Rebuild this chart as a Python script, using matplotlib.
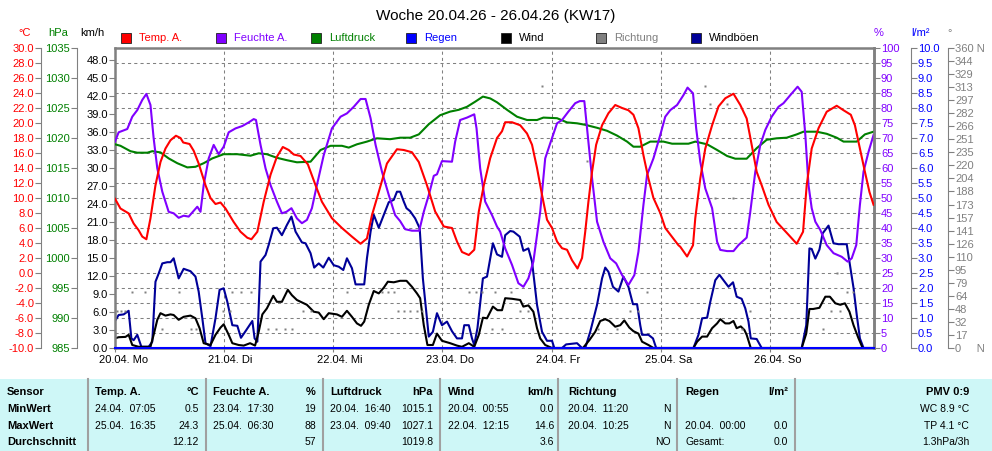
import numpy as np
import matplotlib
matplotlib.use("Agg")
import matplotlib.pyplot as plt
from matplotlib.patches import Rectangle
from matplotlib.ticker import FormatStrFormatter
from matplotlib.transforms import blended_transform_factory, offset_copy

plt.rcParams["font.family"] = ["Liberation Sans", "DejaVu Sans"]
plt.rcParams["axes.unicode_minus"] = False

# Messwerte, Zeit in Stunden ab 20.04. 00:00
temp_h = [0, 1.2, 3.0, 4.1, 5.2, 6.0, 6.9, 7.8, 8.9, 10.0, 11.1, 12.2, 13.4, 14.4, 15.0, 16.4, 17.3, 18.4,
          19.9, 21.0, 22.1, 23.2, 24.3, 26.1, 27.6, 29.1, 30.0, 31.3, 32.7, 34.2, 35.6, 36.9, 38.2, 39.3,
          40.8, 42.4, 44.1, 45.5, 47.7, 49.9, 52.1, 54.0, 55.4, 56.5, 58.0, 59.8, 62.0, 63.5, 65.3, 66.8,
          68.6, 70.4, 72.3, 74.1, 75.2, 76.3, 77.8, 79.0, 80.0, 81.1, 82.5, 84.0, 85.1, 85.8, 87.3, 89.1,
          90.6, 91.7, 92.8, 93.9, 95.0, 96.1, 97.2, 98.3, 99.4, 100.5, 101.7, 102.7, 103.4, 104.1, 104.9,
          105.8, 107.1, 108.5, 110.0, 111.5, 112.9, 114.0, 115.1, 116.2, 117.3, 118.4, 119.9, 121.0, 122.5,
          123.9, 124.3, 125.8, 127.1, 127.6, 128.7, 129.8, 131.3, 132.7, 134.2, 136.0, 137.5, 138.9, 140.0,
          141.1, 142.2, 143.7, 145.5, 148.1, 149.9, 151.3, 152.1, 153.2, 154.7, 156.5, 158.7, 160.2, 161.8,
          162.7, 163.8, 164.9, 165.9, 166.8]
temp_v = [9.9, 8.6, 7.95, 6.6, 5.7, 4.85, 4.5, 7.3, 11.7, 14.8, 16.6, 17.7, 18.3, 18.0, 17.4, 17.2, 16.3, 14.6,
          11.7, 10.0, 9.2, 9.4, 8.6, 6.8, 5.5, 4.7, 4.5, 5.5, 9.5, 13.1, 15.5, 16.8, 16.4, 15.8,
          15.6, 14.5, 11.7, 9.5, 7.3, 6.0, 4.85, 3.9, 4.6, 7.7, 10.8, 14.6, 16.5, 16.4, 16.1, 14.8,
          11.7, 8.2, 6.2, 6.0, 4.2, 2.8, 2.4, 3.1, 8.2, 11.7, 15.3, 18.0, 18.9, 20.1, 20.1, 19.7,
          18.6, 17.1, 14.0, 10.4, 7.1, 6.0, 4.2, 3.3, 3.1, 1.7, 0.6, 2.0, 5.5, 9.5, 13.5,
          17.1, 19.7, 21.3, 22.4, 22.0, 21.7, 21.1, 19.3, 15.7, 12.6, 10.0, 8.0, 6.0, 4.8,
          3.7, 3.5, 2.2, 3.7, 7.3, 12.6, 16.6, 19.7, 22.2, 23.3, 23.9, 22.4, 20.6, 17.1,
          13.5, 11.7, 9.1, 6.8, 5.1, 3.9, 5.5, 11.7, 16.6, 19.3, 21.5, 22.3, 21.7, 21.1,
          19.7, 16.6, 13.5, 10.8, 9.1]

hum_h = [0, 0.8, 2.7, 3.8, 4.9, 6.0, 6.9, 7.8, 8.5, 9.3, 10.4, 11.8, 12.9, 14.0, 15.1, 16.2, 17.3, 18.1, 18.8,
         19.5, 20.6, 21.7, 22.8, 23.9, 25.0, 26.5, 28.0, 29.4, 30.5, 31.0, 32.0, 33.1, 34.2, 35.6, 36.7,
         37.7, 38.8, 40.0, 41.1, 42.2, 43.3, 44.4, 45.9, 47.7, 49.6, 51.0, 52.5, 54.0, 55.1, 56.2, 57.3,
         58.7, 60.2, 61.6, 62.7, 63.8, 65.3, 66.9, 67.9, 69.0, 70.1, 70.8, 71.9, 74.1, 74.8, 75.9, 77.4,
         79.0, 79.5, 80.3, 81.4, 82.9, 84.0, 84.7, 85.8, 87.3, 88.7, 89.8, 90.9, 92.0, 93.5, 94.6, 95.7,
         97.2, 98.3, 99.7, 101.2, 102.2, 103.2, 103.8, 104.9, 106.0, 107.4, 108.9, 110.2, 111.5, 112.9,
         114.2, 115.1, 116.2, 117.0, 118.4, 119.9, 121.0, 122.1, 123.6, 125.0, 125.9, 127.1, 127.8, 128.7,
         129.8, 131.3, 132.4, 133.1, 134.6, 136.0, 137.1, 138.9, 139.7, 140.8, 141.9, 143.0, 144.4, 145.9,
         147.0, 148.5, 150.1, 151.0, 151.8, 152.5, 153.2, 154.0, 155.1, 156.5, 158.0, 159.8, 161.1, 162.0,
         163.0, 163.8, 164.6, 165.7, 166.8]
hum_v = [68.8, 71.9, 73.0, 77.1, 79.3, 82.7, 84.7, 81.0, 69.9, 59.9, 52.1, 45.4, 44.9, 43.4, 44.1, 43.8, 45.7, 47.1, 45.4,
         54.3, 63.2, 67.7, 64.6, 67.1, 71.9, 73.2, 74.0, 75.2, 76.3, 76.0, 67.7, 59.9, 54.3, 48.8, 44.9,
         45.4, 46.6, 43.2, 41.6, 42.7, 46.6, 54.3, 64.3, 73.2, 77.1, 78.2, 80.4, 83.0, 83.0, 76.6, 67.7,
         58.8, 51.0, 44.3, 42.3, 39.6, 39.1, 39.1, 45.4, 51.0, 57.4, 57.9, 62.3, 62.1, 68.8, 76.0, 76.8,
         77.9, 73.2, 59.9, 48.8, 44.3, 40.5, 38.8, 33.2, 27.7, 21.6, 20.4, 23.2, 28.8, 45.4, 63.2, 68.2,
         74.9, 76.0, 78.8, 81.6, 82.3, 82.3, 73.2, 56.6, 42.1, 35.4, 29.9, 28.2, 24.3, 21.0,
         24.3, 32.1, 47.7, 57.7, 63.2, 71.0, 77.1, 79.3, 81.0, 84.3, 86.8, 84.9, 73.2, 62.1,
         53.2, 46.6, 35.4, 32.7, 32.3, 32.3, 34.3, 36.8, 45.4, 58.8, 67.7, 72.7, 77.1, 80.4,
         81.6, 84.3, 87.1, 85.4, 71.0, 54.3, 46.6, 42.1, 39.3, 34.3, 31.6, 30.4, 28.8, 29.9,
         34.3, 47.7, 58.8, 65.4, 71.0]

pres_h = [0, 1.2, 3.4, 4.9, 7.1, 8.2, 10.0, 11.8, 13.7, 15.9, 17.7, 19.5, 21.4, 23.9, 26.9, 29.8, 31.6, 33.4,
          35.6, 37.8, 40.0, 43.0, 45.2, 47.4, 49.9, 51.4, 53.2, 55.4, 57.6, 60.5, 62.7, 64.9, 66.8, 69.0,
          71.5, 73.7, 75.6, 77.4, 79.2, 80.9, 82.5, 84.0, 86.2, 88.4, 90.6, 92.8, 94.2, 97.2, 99.4, 101.6,
          103.4, 106.0, 108.2, 110.4, 112.6, 114.0, 115.5, 117.7, 120.6, 122.5, 126.1, 127.6, 130.2, 132.4,
          134.6, 136.4, 138.9, 141.1, 143.3, 145.5, 147.7, 149.9, 151.4, 154.3, 156.5, 158.7, 160.2, 163.1,
          164.9, 166.8]
pres_v = [1018.95, 1018.7, 1017.8, 1017.55, 1017.55, 1017.8, 1017.6, 1016.6, 1015.8, 1015.1, 1015.2, 1015.8,
          1016.6, 1017.3, 1017.3, 1017.05, 1017.45, 1017.3, 1016.7, 1016.3, 1015.95, 1016.05, 1018.0, 1018.7,
          1018.7, 1018.4, 1018.95, 1019.4, 1019.95, 1019.8, 1020.05, 1020.05, 1020.6, 1022.3, 1023.8, 1024.4,
          1024.7, 1025.2, 1026.05, 1026.9, 1026.6, 1025.95, 1024.7, 1023.55, 1023.0, 1023.0, 1023.4, 1023.3,
          1022.6, 1022.45, 1022.2, 1021.7, 1021.2, 1020.4, 1019.4, 1018.55, 1018.55, 1019.4, 1019.4, 1019.05,
          1019.05, 1019.4, 1018.95, 1018.0, 1017.0, 1016.55, 1016.55, 1018.3, 1019.7, 1019.95, 1020.05,
          1020.6, 1021.05, 1021.05, 1020.7, 1020.05, 1019.4, 1019.4, 1020.6, 1021.05]

gust_h = [0, 0.8, 1.9, 3.0, 3.6, 4.1, 4.9, 5.8, 7.4, 8.2, 8.9, 9.6, 10.4, 11.5, 12.2, 12.9, 14.0, 15.1, 16.6,
          17.7, 18.4, 19.2, 19.9, 21.0, 22.1, 23.0, 23.9, 24.7, 25.8, 26.9, 27.7, 28.7, 30.2, 30.7, 31.3,
          32.0, 33.1, 33.8, 34.8, 35.6, 36.7, 37.8, 38.8, 39.7, 41.1, 41.9, 43.0, 43.8, 44.8, 45.8, 47.0,
          48.1, 49.2, 50.2, 51.0, 52.1, 52.9, 54.8, 55.4, 56.2, 56.9, 58.0, 59.1, 60.2, 61.3, 62.0, 62.7,
          63.5, 64.1, 64.9, 66.0, 67.0, 67.7, 69.0, 69.9, 70.8, 71.9, 73.0, 74.1, 75.2, 76.3, 76.8, 77.8,
          78.5, 79.0, 79.7, 80.9, 81.8, 83.1, 84.0, 85.1, 85.8, 86.9, 87.6, 89.0, 89.8, 90.9, 91.7, 92.8,
          93.9, 95.0, 96.1, 96.6, 98.3, 99.2, 101.6, 102.7, 103.4, 104.5, 106.0, 107.1, 107.8, 108.5, 109.5,
          110.7, 111.8, 112.9, 113.9, 114.8, 115.5, 115.9, 117.3, 118.3, 119.0, 127.2, 128.3, 129.1, 130.2,
          130.9, 132.0, 132.9, 133.8, 134.9, 135.9, 136.7, 137.8, 138.6, 139.3, 139.8, 141.1, 142.2, 151.0,
          152.0, 152.7, 153.2, 154.0, 154.9, 155.6, 156.9, 158.0, 159.1, 160.9, 161.6, 162.4, 163.1, 163.8,
          164.6, 166.9]
gust_v = [4.5, 5.5, 5.6, 6.2, 1.6, 1.3, 2.2, 0.2, 0.2, 1.05, 11.05, 12.4, 14.1, 14.3, 14.3, 14.95, 11.6, 13.2, 12.8,
          11.9, 9.4, 4.95, 0.8, 0.3, 4.95, 9.7, 9.95, 7.7, 3.8, 3.7, 1.7, 2.8, 4.5, 1.6, 1.05,
          14.4, 15.5, 17.2, 19.95, 20.05, 18.8, 20.5, 21.9, 19.4, 17.6, 17.45, 15.8, 13.4, 14.1, 13.4, 15.05,
          13.8, 13.55, 13.0, 14.95, 13.3, 10.6, 10.6, 14.95, 19.4, 22.2, 20.05, 22.2, 24.3, 24.7, 26.05, 26.05,
          24.4, 23.3, 22.8, 21.6, 19.95, 11.6, 1.9, 2.7, 5.8, 3.8, 4.4, 2.8, 1.6, 1.6, 3.8, 3.8,
          1.6, 0.5, 3.3, 11.6, 11.9, 17.45, 15.6, 15.2, 18.8, 19.5, 19.4, 18.55, 16.2, 16.6, 14.4, 7.2,
          2.7, 1.2, 1.2, 0.0, 0.0, 0.6, 0.8, 0.0, 0.0, 2.7, 7.2, 11.6, 13.4, 12.7, 10.2,
          9.4, 11.9, 10.2, 7.3, 7.3, 3.8, 2.2, 2.2, 1.6, 0.0, 0.0, 2.2, 4.95, 5.05,
          7.7, 11.3, 12.2, 11.3, 10.2, 10.95, 8.55, 8.2, 6.6, 4.4, 1.6, 1.5, 0.0, 0.0,
          3.8, 16.6, 16.5, 14.9, 16.4, 19.1, 20.4, 17.45, 17.3, 17.3, 13.9, 10.0, 5.55, 1.6,
          0.0, 0.0]

wind_h = [0, 0.8, 2.3, 3.0, 3.8, 5.2, 7.8, 8.5, 9.3, 10.0, 11.1, 12.2, 12.9, 14.0, 15.1, 16.6, 17.7, 18.6, 19.5,
          21.0, 22.1, 23.2, 23.9, 25.0, 25.8, 27.2, 28.3, 29.7, 30.8, 31.6, 32.4, 33.4, 34.8, 35.6, 36.7,
          38.0, 38.9, 40.0, 41.5, 42.2, 43.7, 44.8, 45.9, 47.0, 48.8, 49.9, 51.0, 52.1, 53.2, 54.1, 54.8,
          55.8, 56.9, 58.0, 59.1, 60.0, 61.3, 62.7, 64.1, 65.3, 66.4, 67.1, 67.9, 68.7, 69.9, 70.8, 71.9,
          73.7, 75.2, 76.3, 77.8, 79.0, 80.0, 80.9, 81.8, 83.1, 84.1, 85.1, 85.8, 87.3, 89.1, 89.8, 90.9,
          92.0, 92.8, 93.5, 94.6, 96.1, 102.9, 104.3, 105.6, 106.7, 107.8, 108.7, 110.0, 111.1, 112.0,
          113.1, 114.0, 115.1, 115.9, 117.3, 118.4, 127.2, 128.0, 129.1, 130.2, 131.3, 132.4, 133.1, 134.2,
          135.1, 136.0, 136.7, 137.6, 138.4, 138.9, 139.8, 151.0, 152.0, 152.7, 153.5, 154.9, 156.2, 157.2,
          158.4, 159.5, 160.5, 161.5, 162.4, 163.5, 164.4, 166.9]
wind_v = [1.6, 1.8, 1.85, 2.2, 0.5, 0.2, 0.2, 2.2, 4.7, 5.8, 5.4, 5.6, 5.5, 4.7, 5.2, 5.4, 4.95, 3.3, 0.8,
          0.5, 2.2, 3.4, 3.95, 2.2, 0.8, 0.5, 0.4, 0.8, 0.4, 2.7, 5.6, 6.6, 8.7, 7.7, 7.7,
          9.7, 8.8, 8.0, 7.45, 7.2, 6.05, 5.9, 4.8, 5.8, 5.6, 5.2, 6.2, 5.2, 4.1, 3.7, 4.4,
          7.2, 9.5, 9.1, 10.05, 11.05, 10.95, 11.2, 11.2, 10.2, 9.1, 8.3, 3.8, 0.5, 0.5, 2.4, 1.2,
          0.8, 0.4, 0.2, 0.8, 0.2, 2.2, 5.05, 4.95, 6.9, 6.3, 6.3, 8.3, 8.2, 8.0, 6.9, 7.1,
          6.05, 3.3, 1.6, 0.5, 0.0, 0.0, 1.3, 2.7, 4.5, 4.8, 4.5, 3.55, 3.8, 4.6,
          3.4, 2.8, 2.4, 1.05, 0.5, 0.0, 0.0, 1.05, 1.9, 1.9, 3.3, 4.1, 4.8, 4.1,
          4.1, 4.5, 3.3, 3.6, 3.0, 2.2, 0.0, 0.0, 2.4, 6.5, 6.5, 6.7, 8.55, 8.55,
          7.45, 7.2, 7.45, 6.05, 3.8, 1.6, 0.0, 0.0]

rain_h = [0, 166.9]
rain_v = [0.0, 0.0]

dir_h = [0.5, 1.4, 2.3, 3.8, 6.7, 10.4, 14.0, 16.8, 17.9, 23.8, 25.2, 25.8, 27.6, 29.8, 33.7, 35.5, 37.3, 39.0,
         41.4, 43.0, 51.1, 58.8, 60.1, 61.4, 62.3, 63.6, 64.9, 66.3, 67.4, 77.9, 79.4, 80.8, 82.9, 83.6, 85.2,
         87.1, 89.1, 90.9, 94.0, 103.8, 106.3, 110.4, 113.3, 115.1, 117.0, 129.8, 130.9, 132.0, 134.6, 136.0,
         137.9, 139.7, 155.7, 157.5, 158.8, 159.5, 161.0, 162.3]
dir_v = [45, 45, 45, 67.5, 67.5, 22.5, 67.5, 22.5, 22.5, 45, 45, 67.5, 67.5, 67.5, 22.5, 22.5, 22.5, 22.5,
         45, 45, 67.5, 67.5, 67.5, 67.5, 45, 45, 45, 45, 45, 67.5, 67.5, 67.5, 22.5, 67.5, 22.5,
         67.5, 45, 45, 315, 225, 22.5, 22.5, 45, 45, 67.5, 315, 292.5, 180, 292.5, 180,
         22.5, 45, 22.5, 45, 90, 45, 67.5, 67.5]

day_labels = ["20.04. Mo", "21.04. Di", "22.04. Mi", "23.04. Do", "24.04. Fr", "25.04. Sa", "26.04. So"]
deg_labels = ["0     N", "17", "32", "48", "64", "79", "95", "110", "126", "141", "157", "173", "188",
              "204", "220", "235", "251", "266", "282", "297", "313", "329", "344", "360 N"]

legend_names = ["Temp. A.", "Feuchte A.", "Luftdruck", "Regen", "Wind", "Richtung", "Windböen"]

C_T, C_H, C_P, C_R = "#FF0000", "#8000FF", "#008000", "#0000FF"
C_W, C_D, C_G = "#000000", "#808080", "#000098"
GREY = "#808080"

W, H = 992, 451
fig = plt.figure(figsize=(W / 100, H / 100), dpi=100)
fig.patch.set_facecolor("white")


def fx(x):
    return x / W


def fy(y):
    return 1 - y / H


L, R, T, B = 115, 874, 48, 348
ax = fig.add_axes([fx(L), fy(B), (R - L) / W, (B - T) / H])
x_end = 166.9

# Hauptachse km/h mit Gitter
ax.set_xlim(0, x_end)
ax.set_ylim(0, 50)
ax.set_xticks(np.arange(0, x_end, 24))
ax.set_xticklabels([])
ax.set_yticks(np.arange(0, 49, 3))
ax.yaxis.set_major_formatter(FormatStrFormatter("%.1f"))
ax.set_yticks(np.arange(2.5, 50, 2.5), minor=True)
ax.grid(which="minor", axis="y", color=GREY, ls=(0, (3, 3)), lw=0.75)
ax.grid(which="major", axis="x", color=GREY, ls=(0, (3, 3)), lw=0.75)
ax.tick_params(axis="y", which="minor", length=0)
ax.tick_params(axis="y", which="major", length=4, width=0.8, colors=GREY,
               labelcolor="black", labelsize=8, pad=1)
ax.tick_params(axis="x", length=3, width=0.8, colors=GREY)
for s in ax.spines.values():
    s.set_color(GREY)
    s.set_linewidth(1.8)


def make_twin(side, pos, ylim, ticks, labels, color, lw=0.8):
    a = ax.twinx()
    a.set_ylim(*ylim)
    for s in a.spines.values():
        s.set_visible(False)
    sp = a.spines[side]
    sp.set_visible(True)
    sp.set_position(("axes", pos))
    sp.set_color(GREY)
    sp.set_linewidth(lw)
    if side == "left":
        a.yaxis.tick_left()
    else:
        a.yaxis.tick_right()
    a.set_yticks(ticks, labels)
    a.tick_params(axis="y", length=4, width=0.8, colors=GREY, labelcolor=color,
                  labelsize=8, pad=1)
    return a


t_ticks = np.arange(-10, 31, 2)
p_ticks = np.arange(985, 1036, 5)
h_ticks = np.arange(0, 101, 5)
r_ticks = np.arange(0, 10.01, 0.5)
d_ticks = np.linspace(0, 360, len(deg_labels))

ax_p = make_twin("left", (77 - L) / (R - L), (985, 1035), p_ticks, [f"{v:d}" for v in p_ticks], C_P)
ax_h = make_twin("right", 1.0, (0, 100), h_ticks, [f"{v:d}" for v in h_ticks], C_H, lw=1.8)
ax_t = make_twin("left", (41 - L) / (R - L), (-10, 30), t_ticks, [f"{v:.1f}" for v in t_ticks], C_T)
ax_d = make_twin("right", (948 - L) / (R - L), (0, 360), d_ticks, deg_labels, C_D)
ax_r = make_twin("right", (911 - L) / (R - L), (0, 10), r_ticks, [f"{v:.1f}" for v in r_ticks], C_R)

lw = 1.5
ax.plot(gust_h, gust_v, color=C_G, lw=lw)
ax.plot(wind_h, wind_v, color=C_W, lw=lw)
ax_p.plot(pres_h, pres_v, color=C_P, lw=lw)
ax_h.plot(hum_h, hum_v, color=C_H, lw=lw)
ax_t.plot(temp_h, temp_v, color=C_T, lw=lw)
ax_d.plot(dir_h, dir_v, ls="none", marker="s", ms=1.6, color=C_D, mec="none")
ax_r.plot(rain_h, rain_v, color=C_R, lw=lw, clip_on=False)

# Tagesbeschriftung
base = blended_transform_factory(ax.transData, ax.transAxes)
tr = offset_copy(base, fig=fig, x=-16, y=-12, units="dots")
for i, lab in enumerate(day_labels):
    ax.text(24 * i, 0, lab, transform=tr, ha="left", va="center", fontsize=8, color="black")

# Titel
fig.text(0.5, fy(16), "Woche 20.04.26 - 26.04.26 (KW17)", ha="center", va="center", fontsize=11)

# Einheiten
units = [(25, "°C", C_T), (58, "hPa", C_P), (92, "km/h", "black"),
         (879, "%", C_H), (920, "l/m²", C_R), (950, "°", C_D)]
for ux, txt, col in units:
    fig.text(fx(ux), fy(33), txt, ha="center", va="center", fontsize=8, color=col)

# Legende
leg_sq = [C_T, C_H, C_P, C_R, C_W, C_D, C_G]
leg_txt = [C_T, C_H, C_P, C_R, "black", C_D, "black"]
for i, name in enumerate(legend_names):
    x0 = 126 + i * 95
    fig.add_artist(Rectangle((fx(x0 - 5), fy(43)), 10 / W, 10 / H, transform=fig.transFigure,
                             facecolor=leg_sq[i], edgecolor="#202020", lw=0.6))
    fig.text(fx(x0 + 13), fy(38), name, ha="left", va="center", fontsize=8, color=leg_txt[i])

# Tabelle
fig.add_artist(Rectangle((0, 0), 1, fy(379), transform=fig.transFigure,
                         facecolor="#CEF7F7", edgecolor="none", zorder=0))
for sx in [88, 206, 323, 440, 558, 677, 795]:
    fig.add_artist(plt.Line2D([fx(sx), fx(sx)], [0, fy(379)], transform=fig.transFigure,
                              color="#A0A0A0", lw=1.5))

BOLD = 8
REG = 7.5
rows_y = [392, 409, 426, 442]
for lab, yy in zip(["Sensor", "MinWert", "MaxWert", "Durchschnitt"], rows_y):
    fig.text(fx(7), fy(yy), lab, fontsize=BOLD, fontweight="bold", va="center")

cols = [
    (95, 199, "Temp. A.", "°C", [("24.04.  07:05", "0.5"), ("25.04.  16:35", "24.3"), ("", "12.12")]),
    (213, 316, "Feuchte A.", "%", [("23.04.  17:30", "19"), ("25.04.  06:30", "88"), ("", "57")]),
    (330, 433, "Luftdruck", "hPa", [("20.04.  16:40", "1015.1"), ("23.04.  09:40", "1027.1"), ("", "1019.8")]),
    (448, 554, "Wind", "km/h", [("20.04.  00:55", "0.0"), ("22.04.  12:15", "14.6"), ("", "3.6")]),
    (568, 671, "Richtung", "", [("20.04.  11:20", "N"), ("20.04.  10:25", "N"), ("", "NO")]),
    (685, 788, "Regen", "l/m²", [("", ""), ("20.04.  00:00", "0.0"), ("Gesamt:", "0.0")]),
]
for xl, xr, head, unit, vals in cols:
    fig.text(fx(xl), fy(rows_y[0]), head, fontsize=BOLD, fontweight="bold", va="center", ha="left")
    fig.text(fx(xr), fy(rows_y[0]), unit, fontsize=BOLD, fontweight="bold", va="center", ha="right")
    for (d, v), yy in zip(vals, rows_y[1:]):
        fig.text(fx(xl), fy(yy), d, fontsize=REG, va="center", ha="left")
        fig.text(fx(xr), fy(yy), v, fontsize=REG, va="center", ha="right")

fig.text(fx(969), fy(rows_y[0]), "PMV 0:9", fontsize=BOLD, fontweight="bold", va="center", ha="right")
fig.text(fx(969), fy(rows_y[1]), "WC 8.9 °C", fontsize=REG, va="center", ha="right")
fig.text(fx(969), fy(rows_y[2]), "TP 4.1 °C", fontsize=REG, va="center", ha="right")
fig.text(fx(969), fy(rows_y[3]), "1.3hPa/3h", fontsize=REG, va="center", ha="right")

fig.savefig("out.png", dpi=100)
